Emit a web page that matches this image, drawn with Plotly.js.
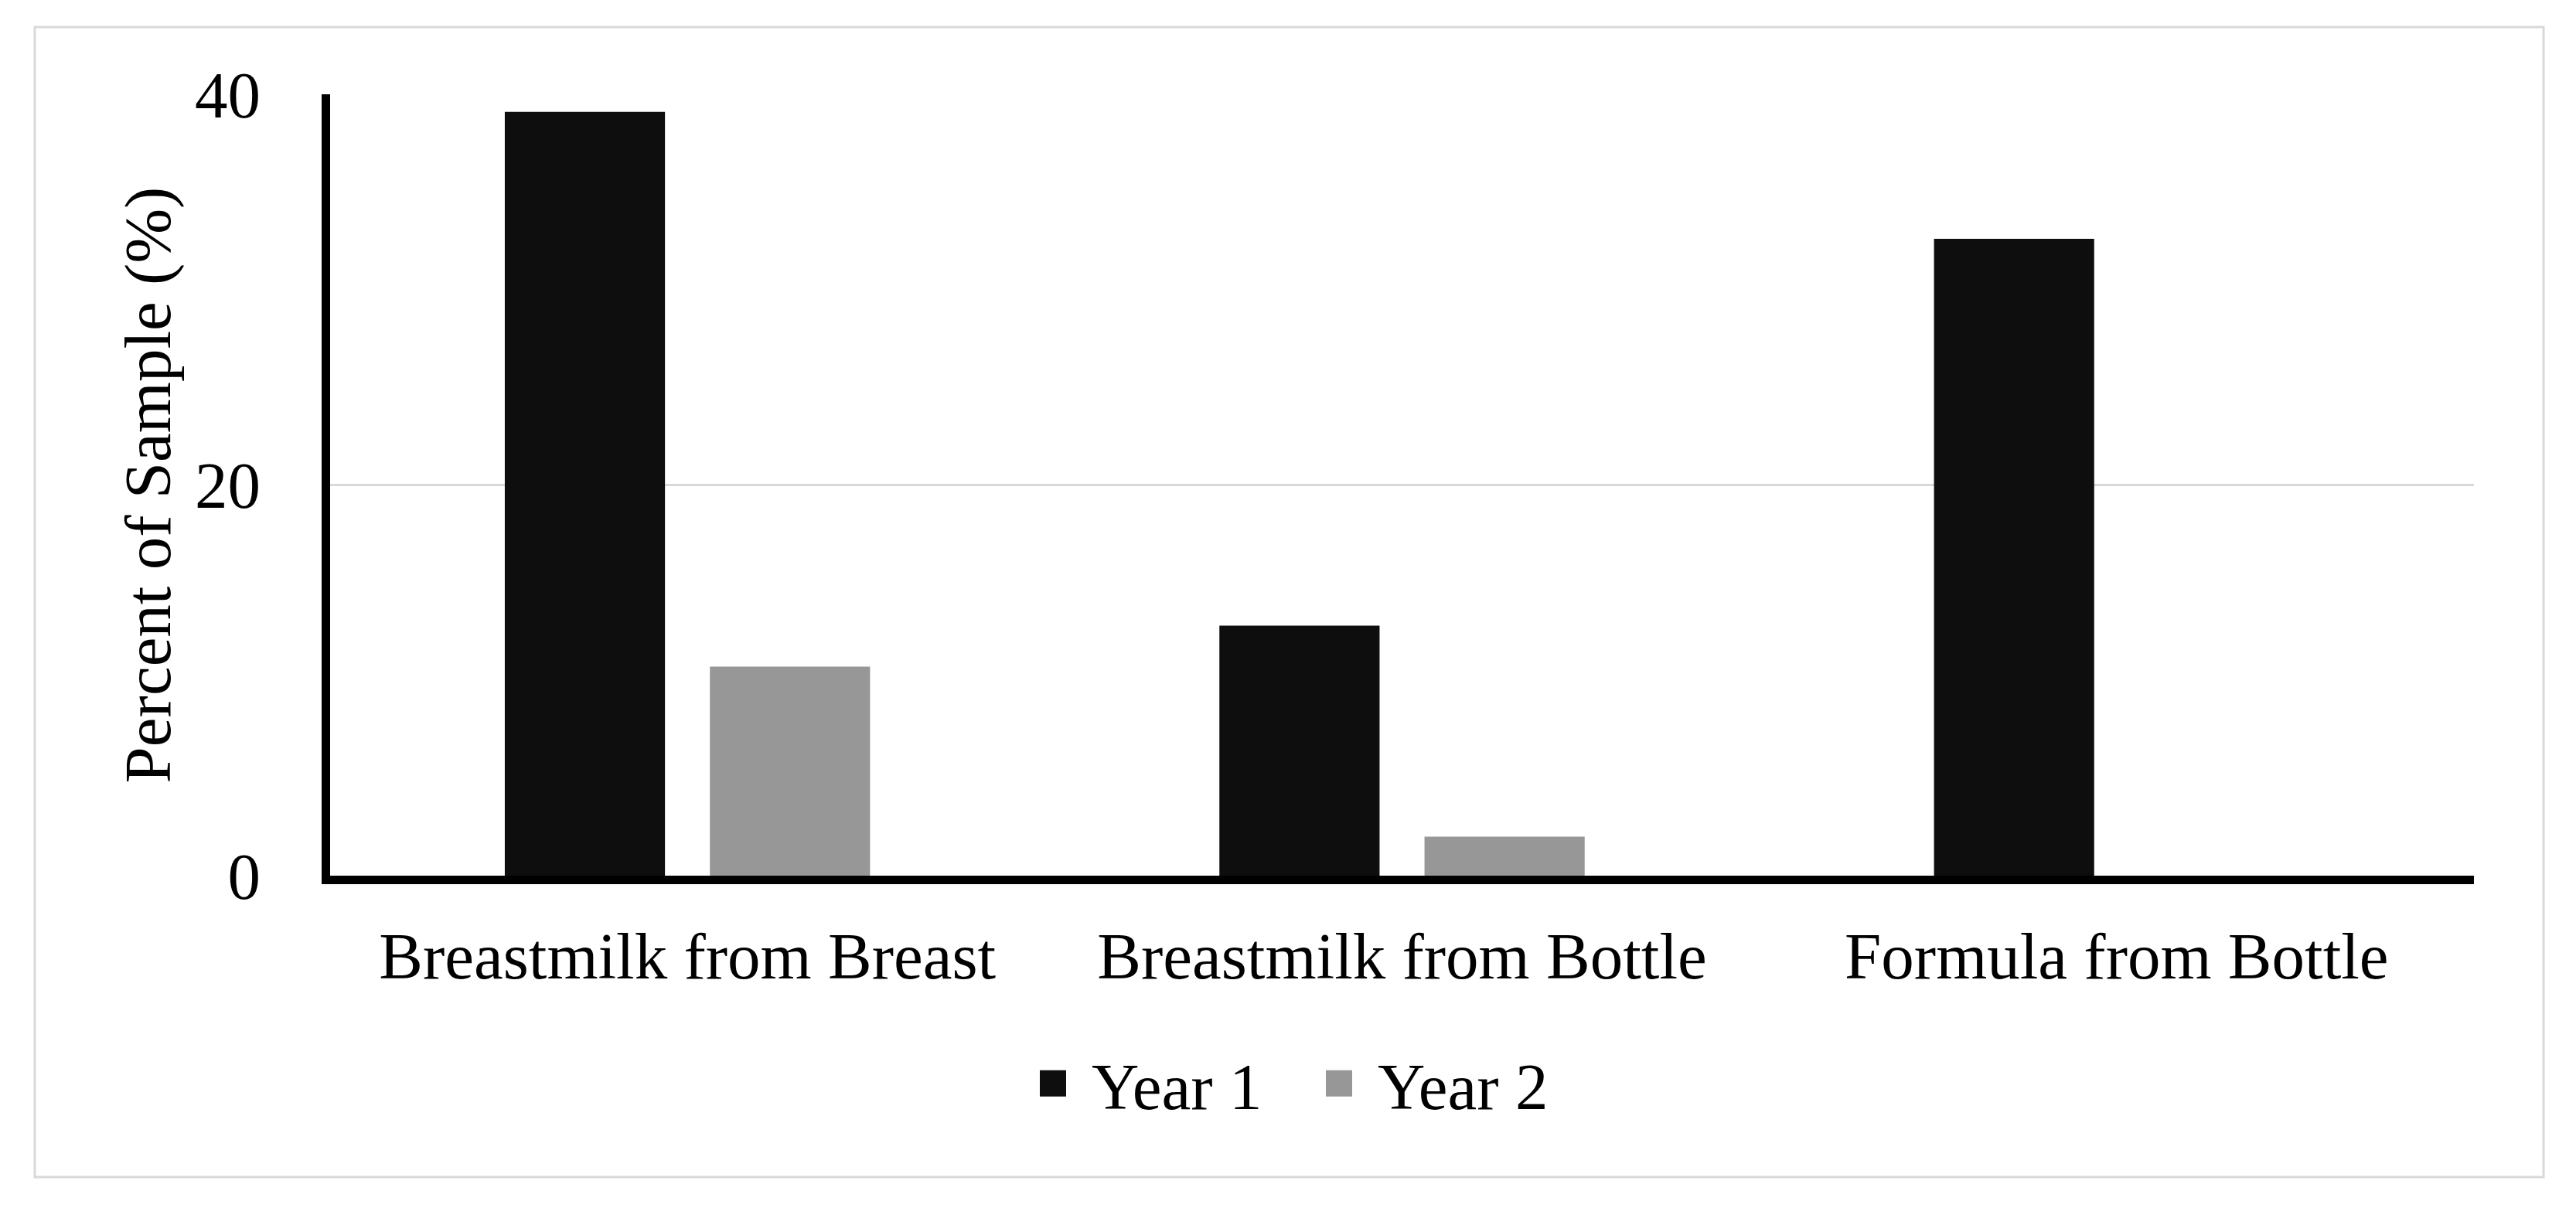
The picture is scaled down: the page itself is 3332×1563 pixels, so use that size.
<!DOCTYPE html>
<html>
<head>
<meta charset="utf-8">
<script src="https://cdn.plot.ly/plotly-3.0.1.min.js"></script>
<style>
  html, body { margin: 0; padding: 0; background: #ffffff; }
  #chart { width: 3332px; height: 1563px; }
</style>
</head>
<body>
<div id="chart"></div>
<script>
// ---- data ----
var categories = ["Breastmilk from Breast", "Breastmilk from Bottle", "Formula from Bottle"];
var seriesNames = ["Year 1", "Year 2"];
var year1 = [39.1, 12.8, 32.6];
var year2 = [10.7, 2.0, 0];
var yTickVals = [0, 20, 40];
var yTickText = ["0", "20", "40"];
var yTitle = "Percent of Sample (%)";

// ---- styles ----
var FONT = "Liberation Serif, Times New Roman, serif";
var colors = ["#0e0e0e", "#979797"];

var traces = [
  { type: "bar", name: seriesNames[0], x: categories, y: year1,
    marker: { color: colors[0], line: { width: 0 } }, hoverinfo: "none" },
  { type: "bar", name: seriesNames[1], x: categories, y: year2,
    marker: { color: colors[1], line: { width: 0 } }, hoverinfo: "none" }
];

var W = 3332, H = 1563;
var mL = 427, mR = 132, mT = 122, mB = 430;
var pw = W - mL - mR, ph = H - mT - mB;
function px2paperX(px) { return (px - mL) / pw; }
function px2paperY(py) { return (H - mB - py) / ph; }

var layout = {
  width: W, height: H,
  margin: { l: mL, r: mR, t: mT, b: mB, pad: 0 },
  paper_bgcolor: "#ffffff",
  plot_bgcolor: "#ffffff",
  font: { family: FONT, size: 85, color: "#000000" },
  barmode: "group",
  bargap: 0.426,
  bargroupgap: 0.219,
  showlegend: true,
  legend: {
    orientation: "h",
    xref: "container", yref: "container",
    x: 0.506, xanchor: "center",
    y: 0.103, yanchor: "middle",
    font: { family: FONT, size: 85, color: "#000000" },
    itemwidth: 86,
    entrywidth: 269,
    bgcolor: "rgba(0,0,0,0)"
  },
  xaxis: {
    type: "category",
    showline: true, linecolor: "#000000", linewidth: 11,
    showgrid: false, zeroline: false,
    ticks: "",
    ticklabelstandoff: 20,
    tickfont: { family: FONT, size: 85, color: "#000000" },
    fixedrange: true
  },
  yaxis: {
    range: [0, 40],
    tickvals: yTickVals, ticktext: yTickText,
    showline: true, linecolor: "#000000", linewidth: 11,
    showgrid: true, gridcolor: "#d9d9d9", gridwidth: 3,
    zeroline: false,
    ticks: "",
    ticklabelstandoff: 62,
    tickfont: { family: FONT, size: 85, color: "#000000" },
    title: { text: yTitle, font: { family: FONT, size: 85, color: "#000000" }, standoff: 8 },
    automargin: false,
    fixedrange: true
  },
  shapes: [
    { type: "rect", xref: "paper", yref: "paper", layer: "below",
      x0: px2paperX(45), x1: px2paperX(3290),
      y0: px2paperY(1523), y1: px2paperY(35),
      line: { color: "#d9d9d9", width: 3 }, fillcolor: "rgba(0,0,0,0)" }
  ]
};

Plotly.newPlot("chart", traces, layout, { displayModeBar: false, staticPlot: true }).then(function (gd) {
  // enlarge legend swatches to match the reference's large square keys
  var pts = gd.querySelectorAll(".legend .legendpoints path");
  pts.forEach(function (p) {
    p.removeAttribute("transform");
    p.setAttribute("d", "M29,-17H63V17H29Z");
    p.style.strokeWidth = "0px";
  });
});
</script>
</body>
</html>
